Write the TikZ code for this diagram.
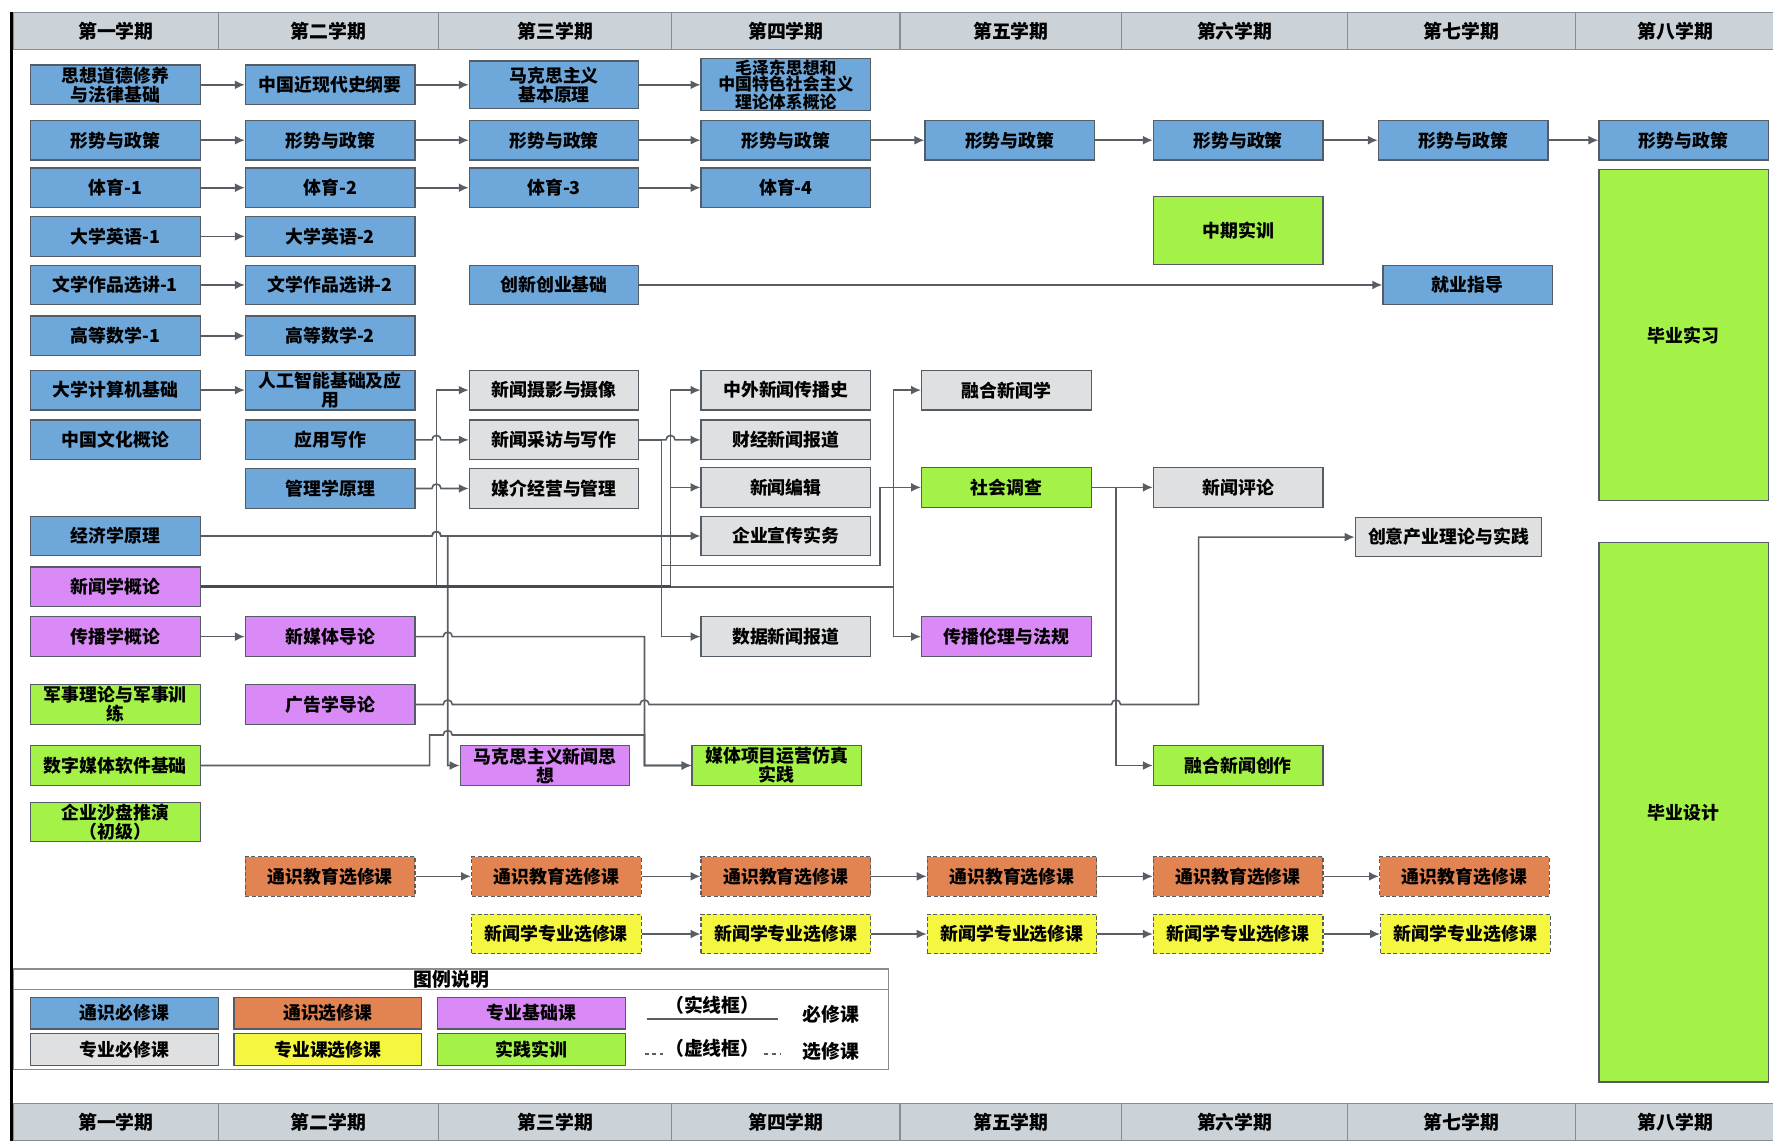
\documentclass[tikz,border=0pt]{standalone}
\usepackage{fontspec}
\setmainfont{Noto Sans CJK SC}
\usetikzlibrary{arrows.meta}

\definecolor{hdrgrey}{RGB}{203,210,216}
\definecolor{cblue}{RGB}{110,168,218}
\definecolor{cgrey}{RGB}{222,224,226}
\definecolor{cpurple}{RGB}{218,138,246}
\definecolor{cgreen}{RGB}{164,242,72}
\definecolor{corange}{RGB}{226,132,82}
\definecolor{cyellow}{RGB}{244,246,64}
\definecolor{bdr}{RGB}{84,92,102}
\definecolor{lnc}{RGB}{88,94,100}

\begin{document}
\begin{tikzpicture}[
  x=0.02cm, y=-0.02cm,
  crs/.style={draw=bdr, line width=0.6pt, minimum width=3cm, minimum height=0.7cm, inner sep=0pt, align=center, font=\fontsize{9}{9.5}\selectfont\bfseries},
  tbk/.style={crs, fill=cblue},
  zbk/.style={crs, fill=cgrey},
  jck/.style={crs, fill=cpurple},
  sxk/.style={crs, fill=cgreen},
  txk/.style={crs, fill=corange, dash pattern=on 2pt off 1.2pt},
  zxk/.style={crs, fill=cyellow, dash pattern=on 2pt off 1.2pt},
  lgk/.style={crs, minimum width=3.32cm, minimum height=0.56cm},
  ln/.style={draw=lnc, line width=0.8pt, -{Latex[length=5pt,width=4.5pt]}},
  trunk/.style={draw=lnc!80!black, line width=1.5pt},
  hdc/.style={draw=bdr!70, fill=hdrgrey, line width=0.6pt},
  hdt/.style={font=\fontsize{9.5}{10}\selectfont\bfseries}
]
  \useasboundingbox (0,0) rectangle (1568,1009);

  % semester bands, top and bottom
  \foreach \a/\b/\t [count=\i] in {12/193/第一学期, 193/388/第二学期, 388/594/第三学期, 594/796/第四学期,
                                    796/992/第五学期, 992/1192/第六学期, 1192/1393/第七学期, 1393/1570/第八学期} {
    \draw[hdc] (\a,11) rectangle (\b,44);
    \node[hdt] (ht\i) at ({(\a+\b)/2},27.5) {\t};
    \draw[hdc] (\a,976) rectangle (\b,1009);
    \node[hdt] (hb\i) at ({(\a+\b)/2},992.5) {\t};
  }
  \draw[line width=1.6pt] (10,11) -- (10,1009);

  % general required courses
  \node[tbk] (sx)  at (102,75)  {思想道德修养\\与法律基础};
  \node[tbk] (jg)  at (292,75)  {中国近现代史纲要};
  \node[tbk, minimum height=0.84cm] (my) at (490,75) {马克思主义\\基本原理};
  \node[tbk, minimum height=0.92cm, font=\fontsize{8.5}{8.2}\selectfont\bfseries] (mg) at (695,75) {毛泽东思想和\\中国特色社会主义\\理论体系概论};

  \node[tbk] (xs1) at (102,124)  {形势与政策};
  \node[tbk] (xs2) at (292,124)  {形势与政策};
  \node[tbk] (xs3) at (490,124)  {形势与政策};
  \node[tbk] (xs4) at (695,124)  {形势与政策};
  \node[tbk] (xs5) at (893,124)  {形势与政策};
  \node[tbk] (xs6) at (1095,124) {形势与政策};
  \node[tbk] (xs7) at (1294,124) {形势与政策};
  \node[tbk] (xs8) at (1489,124) {形势与政策};

  \node[tbk] (ty1) at (102,166) {体育-1};
  \node[tbk] (ty2) at (292,166) {体育-2};
  \node[tbk] (ty3) at (490,166) {体育-3};
  \node[tbk] (ty4) at (695,166) {体育-4};

  \node[tbk] (yy1) at (102,209) {大学英语-1};
  \node[tbk] (yy2) at (292,209) {大学英语-2};

  \node[tbk] (wx1) at (102,252)  {文学作品选讲-1};
  \node[tbk] (wx2) at (292,252)  {文学作品选讲-2};
  \node[tbk] (cx)  at (490,252)  {创新创业基础};
  \node[tbk] (jy)  at (1298,252) {就业指导};

  \node[tbk] (gs1) at (102,297) {高等数学-1};
  \node[tbk] (gs2) at (292,297) {高等数学-2};

  \node[tbk] (jsj)  at (102,345) {大学计算机基础};
  \node[tbk] (rg)   at (292,345) {人工智能基础及应\\用};
  \node[tbk] (zgwh) at (102,389) {中国文化概论};
  \node[tbk] (yyxz) at (292,389) {应用写作};
  \node[tbk] (gl)   at (292,432) {管理学原理};
  \node[tbk] (jj)   at (102,474) {经济学原理};

  % professional required courses
  \node[zbk] (sy) at (490,345) {新闻摄影与摄像};
  \node[zbk] (cf) at (490,389) {新闻采访与写作};
  \node[zbk] (mj) at (490,432) {媒介经营与管理};
  \node[zbk] (zw) at (695,345) {中外新闻传播史};
  \node[zbk] (cj) at (695,389) {财经新闻报道};
  \node[zbk] (bj) at (695,431) {新闻编辑};
  \node[zbk] (qy) at (695,474) {企业宣传实务};
  \node[zbk] (sj) at (695,563) {数据新闻报道};
  \node[zbk] (rh) at (890,345) {融合新闻学};
  \node[zbk] (pl) at (1095,431) {新闻评论};
  \node[zbk, minimum width=3.3cm] (cy) at (1281,475) {创意产业理论与实践};

  % professional basic courses
  \node[jck] (xwgl) at (102,519) {新闻学概论};
  \node[jck] (cbgl) at (102,563) {传播学概论};
  \node[jck] (xmt)  at (292,563) {新媒体导论};
  \node[jck] (gg)   at (292,623) {广告学导论};
  \node[jck] (mks)  at (482,677) {马克思主义新闻思\\想};
  \node[jck] (ll)   at (890,563) {传播伦理与法规};

  % practice
  \node[sxk] (js)   at (102,623) {军事理论与军事训\\练};
  \node[sxk] (szmt) at (102,677) {数字媒体软件基础};
  \node[sxk] (sp)   at (102,727) {企业沙盘推演\\（初级）};
  \node[sxk] (xm)   at (687,677) {媒体项目运营仿真\\实践};
  \node[sxk] (dc)   at (890,431) {社会调查};
  \node[sxk] (rhcz) at (1095,677) {融合新闻创作};
  \node[sxk, minimum height=1.2cm] (zq) at (1095,204) {中期实训};
  \node[sxk, minimum height=5.86cm] (bs)  at (1489,296.5) {毕业实习};
  \node[sxk, minimum height=9.54cm] (bsj) at (1489,718.5) {毕业设计};

  % electives
  \node[txk] (tx2) at (292,775)  {通识教育选修课};
  \node[txk] (tx3) at (492,775)  {通识教育选修课};
  \node[txk] (tx4) at (695,775)  {通识教育选修课};
  \node[txk] (tx5) at (895,775)  {通识教育选修课};
  \node[txk] (tx6) at (1095,775) {通识教育选修课};
  \node[txk] (tx7) at (1295,775) {通识教育选修课};
  \node[zxk] (zx3) at (492,826)  {新闻学专业选修课};
  \node[zxk] (zx4) at (695,826)  {新闻学专业选修课};
  \node[zxk] (zx5) at (895,826)  {新闻学专业选修课};
  \node[zxk] (zx6) at (1095,826) {新闻学专业选修课};
  \node[zxk] (zx7) at (1296,826) {新闻学专业选修课};

  % straight chains
  \draw[ln] (sx) -- (jg);
  \draw[ln] (jg) -- (my);
  \draw[ln] (my) -- (mg);
  \draw[ln] (xs1) -- (xs2);
  \draw[ln] (xs2) -- (xs3);
  \draw[ln] (xs3) -- (xs4);
  \draw[ln] (xs4) -- (xs5);
  \draw[ln] (xs5) -- (xs6);
  \draw[ln] (xs6) -- (xs7);
  \draw[ln] (xs7) -- (xs8);
  \draw[ln] (ty1) -- (ty2);
  \draw[ln] (ty2) -- (ty3);
  \draw[ln] (ty3) -- (ty4);
  \draw[ln] (yy1) -- (yy2);
  \draw[ln] (wx1) -- (wx2);
  \draw[ln] (cx) -- (jy);
  \draw[ln] (gs1) -- (gs2);
  \draw[ln] (jsj) -- (rg);
  \draw[ln] (cbgl) -- (xmt);
  \draw[ln] (dc) -- (pl);
  \draw[ln] (tx2) -- (tx3);
  \draw[ln] (tx3) -- (tx4);
  \draw[ln] (tx4) -- (tx5);
  \draw[ln] (tx5) -- (tx6);
  \draw[ln] (tx6) -- (tx7);
  \draw[ln] (zx3) -- (zx4);
  \draw[ln] (zx4) -- (zx5);
  \draw[ln] (zx5) -- (zx6);
  \draw[ln] (zx6) -- (zx7);

  % routed connectors (small arcs hop over crossing lines)
  \draw[ln] (yyxz.east) -- (382,389) arc[start angle=180,end angle=360,radius=4] -- (cf.west);
  \draw[ln] (gl.east) -- (382,432) arc[start angle=180,end angle=360,radius=4] -- (mj.west);
  \draw[ln] (jj.east) -- (382,474) arc[start angle=180,end angle=360,radius=4] -- (qy.west);
  \draw[ln] (jj.east) -- (382,474) arc[start angle=180,end angle=360,radius=4] -- (396,474) |- (mks.west);

  \draw[ln] (xwgl.east) -- (386,519) |- (sy.west);
  \draw[ln] (xwgl.east) -- (593,519) |- (zw.west);
  \draw[ln] (xwgl.east) -- (593,519) |- (bj.west);
  \draw[ln] (xwgl.east) -- (790,519) |- (rh.west);
  \draw[ln] (xwgl.east) -- (790,519) |- (ll.west);
  \draw[trunk] (xwgl.east) -- (593,519);

  \draw[ln] (cf.east) -- (589,389) arc[start angle=180,end angle=360,radius=4] -- (cj.west);
  \draw[ln] (cf.east) -- (585,389) |- (sj.west);
  \draw[ln] (cf.east) -- (585,389) -- (585,500) -| (778,431) -- (dc.west);

  \draw[ln] (xmt.east) -- (392,563) arc[start angle=180,end angle=360,radius=4] -- (570,563) |- (xm.west);
  \draw[ln] (szmt.east) -- (380,677) -- (380,650) -- (392,650) arc[start angle=180,end angle=360,radius=4] -- (570,650) |- (xm.west);
  \draw[ln] (gg.east) -- (392,623) arc[start angle=180,end angle=360,radius=4] -- (566,623) arc[start angle=180,end angle=360,radius=4]
            -- (983,623) arc[start angle=180,end angle=360,radius=4] -- (1060,623) |- (cy.west);
  \draw[ln] (dc.east) -- (987,431) |- (rhcz.west);

  % legend
  \draw[draw=bdr!70, line width=0.6pt] (12,857) rectangle (786,946);
  \draw[draw=bdr!70, line width=0.6pt] (12,875) -- (786,875);
  \node[hdt] (lgt) at (399,866) {图例说明};
  \node[lgk, fill=cblue]   (lg1) at (110,896) {通识必修课};
  \node[lgk, fill=cgrey]   (lg2) at (110,928) {专业必修课};
  \node[lgk, fill=corange] (lg3) at (290,896) {通识选修课};
  \node[lgk, fill=cyellow] (lg4) at (290,928) {专业课选修课};
  \node[lgk, fill=cpurple] (lg5) at (470,896) {专业基础课};
  \node[lgk, fill=cgreen]  (lg6) at (470,928) {实践实训};
  \draw[draw=lnc, line width=0.8pt] (572,901) -- (688,901);
  \node[hdt] (ls) at (630,889) {（实线框）};
  \node[hdt] (lbx) at (735,897) {必修课};
  \draw[draw=lnc, line width=0.8pt, dash pattern=on 2pt off 2pt] (570,932) -- (690,932);
  \node[hdt, fill=white, inner sep=1pt] (lx) at (630,927) {（虚线框）};
  \node[hdt] (lxx) at (735,930) {选修课};
\end{tikzpicture}
\end{document}
